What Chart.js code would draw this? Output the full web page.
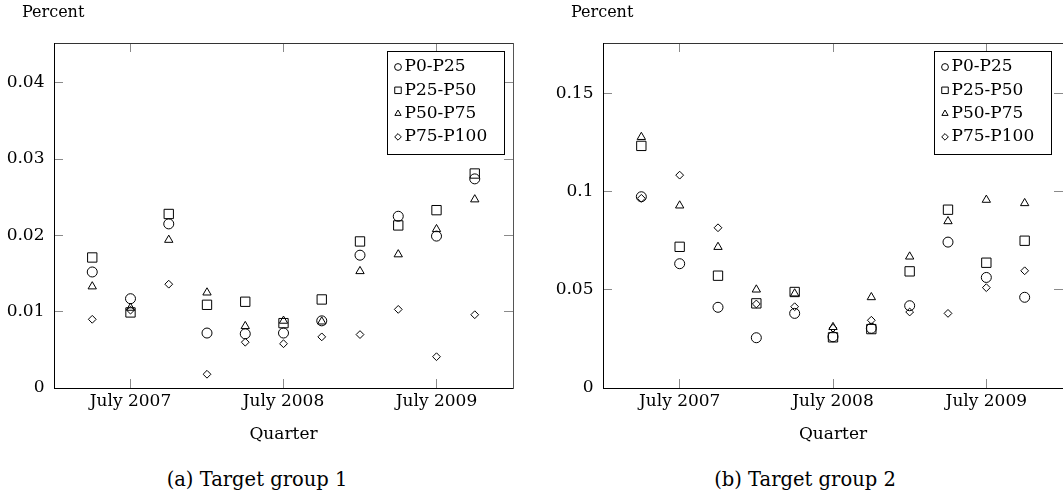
<!DOCTYPE html>
<html>
<head>
<meta charset="utf-8">
<script src="https://cdn.jsdelivr.net/npm/chart.js"></script>
<style>
  html, body { margin: 0; padding: 0; background: #fff; }
  body { width: 1063px; height: 498px; position: relative; overflow: hidden; }
  canvas { position: absolute; top: 0; }
  #c1 { left: 0px; }
  #c2 { left: 549px; }
  .txt { position: absolute; font-family: 'DejaVu Serif', serif; color: #000; white-space: nowrap; }
  .cap { width: 320px; text-align: center; font-size: 19.5px; line-height: 24px; top: 468px; }
  .ylab { font-size: 16px; line-height: 18px; top: 3px; }
</style>
</head>
<body>
<canvas id="c1" width="530" height="460"></canvas>
<canvas id="c2" width="514" height="460"></canvas>
<div class="txt ylab" style="left:22px">Percent</div>
<div class="txt ylab" style="left:571px">Percent</div>
<div class="txt cap" style="left:97px">(a) Target group 1</div>
<div class="txt cap" style="left:645px">(b) Target group 2</div>
<script>
// ---- data ----
const seriesLabels = ['P0-P25', 'P25-P50', 'P50-P75', 'P75-P100'];
// quarters Apr 2007 ... Oct 2009, as fractional years
const quarterPos = [2007.25, 2007.5, 2007.75, 2008.0, 2008.25, 2008.5, 2008.75, 2009.0, 2009.25, 2009.5, 2009.75];
const xTickPos = [2007.5, 2008.5, 2009.5];
const xTickLabels = ['July 2007', 'July 2008', 'July 2009'];

// Target group 1
const g1_p0_25   = [0.0152, 0.0117, 0.0215, 0.0072, 0.0071, 0.0072, 0.0088, 0.0174, 0.0225, 0.0199, 0.0274];
const g1_p25_50  = [0.0171, 0.0099, 0.0228, 0.0109, 0.0113, 0.0085, 0.0116, 0.0192, 0.0213, 0.0233, 0.0281];
const g1_p50_75  = [0.0133, 0.0105, 0.0194, 0.0125, 0.0081, 0.0088, 0.0087, 0.0153, 0.0175, 0.0208, 0.0247];
const g1_p75_100 = [0.0090, 0.0102, 0.0136, 0.0018, 0.0060, 0.0058, 0.0067, 0.0070, 0.0103, 0.0041, 0.0096];
const g1_yTicks = [0, 0.01, 0.02, 0.03, 0.04];
const g1_yTickLabels = ['0', '0.01', '0.02', '0.03', '0.04'];
const g1_yMax = 0.0452;

// Target group 2
const g2_p0_25   = [0.0974, 0.0633, 0.0411, 0.0256, 0.0380, 0.0261, 0.0304, 0.0419, 0.0743, 0.0563, 0.0462];
const g2_p25_50  = [0.1233, 0.0719, 0.0572, 0.0431, 0.0489, 0.0258, 0.0300, 0.0594, 0.0908, 0.0638, 0.0750];
const g2_p50_75  = [0.1278, 0.0929, 0.0718, 0.0501, 0.0481, 0.0310, 0.0462, 0.0669, 0.0849, 0.0958, 0.0941];
const g2_p75_100 = [0.0966, 0.1084, 0.0816, 0.0428, 0.0414, 0.0305, 0.0345, 0.0387, 0.0380, 0.0511, 0.0597];
const g2_yTicks = [0, 0.05, 0.1, 0.15];
const g2_yTickLabels = ['0', '0.05', '0.1', '0.15'];
const g2_yMax = 0.1757;

// ---- styles ----
const pointStyles = ['circle', 'rect', 'triangle', 'rectRot'];
const pointRadii = [5, 6.6, 4.8, 3.9];
const legendRadii = [3.4, 4.6, 3.6, 3.3];
const FONT = "'DejaVu Serif', serif";
const TICK_GRAY = '#8a8a8a';

const boxedLegend = {
  id: 'boxedLegend',
  afterDatasetsDraw(chart, args, o) {
    const {ctx, chartArea} = chart;
    const x0 = Math.round(chartArea.right - o.right - o.width);
    const y0 = Math.round(chartArea.top + o.top);
    ctx.save();
    ctx.fillStyle = '#fff';
    ctx.fillRect(x0, y0, o.width, o.height);
    ctx.strokeStyle = '#000';
    ctx.lineWidth = 1;
    ctx.strokeRect(x0 + 0.5, y0 + 0.5, o.width, o.height);
    ctx.font = o.font;
    ctx.textBaseline = 'middle';
    ctx.textAlign = 'left';
    chart.data.datasets.forEach((ds, i) => {
      const cy = y0 + o.firstRow + i * o.rowGap;
      ctx.fillStyle = 'rgba(0,0,0,0)';
      ctx.strokeStyle = '#000';
      ctx.lineWidth = 1;
      Chart.helpers.drawPoint(ctx, {pointStyle: ds.pointStyle, radius: legendRadii[i], borderWidth: 1, rotation: 0}, x0 + o.markerX, cy);
      ctx.fillStyle = '#000';
      ctx.fillText(ds.label, x0 + o.textX, cy);
    });
    ctx.restore();
  }
};

function makeChart(id, series, yTicks, yTickLabels, yMax, padRight, legendRight) {
  const tickFont = {family: FONT, size: 17};
  const frameGrid = {drawOnChartArea: false, drawTicks: true, tickLength: -9, color: TICK_GRAY, lineWidth: 1};
  return new Chart(document.getElementById(id), {
    type: 'scatter',
    data: {
      datasets: seriesLabels.map((label, i) => ({
        label: label,
        data: quarterPos.map((x, j) => ({x: x, y: series[i][j]})),
        pointStyle: pointStyles[i],
        pointRadius: pointRadii[i],
        pointHoverRadius: pointRadii[i],
        borderColor: '#000',
        backgroundColor: 'rgba(0,0,0,0)',
        pointBorderWidth: 1,
        showLine: false
      }))
    },
    options: {
      responsive: false,
      animation: false,
      devicePixelRatio: 1,
      events: [],
      layout: {autoPadding: false, padding: {left: 0, right: padRight, top: 43, bottom: 0}},
      plugins: {
        legend: {display: false},
        tooltip: {enabled: false},
        title: {display: false},
        boxedLegend: {right: legendRight, top: 8, width: 117, height: 103, markerX: 11, textX: 17.5,
                      firstRow: 16, rowGap: 23.3, font: "17px 'DejaVu Serif', serif"}
      },
      scales: {
        x: {
          type: 'linear', axis: 'x', position: 'bottom', min: 2007.0, max: 2010.0,
          afterBuildTicks: s => { s.ticks = xTickPos.map(v => ({value: v})); },
          afterFit: s => { s.height = 72; },
          ticks: {callback: (v, i) => xTickLabels[i], font: tickFont, color: '#000', padding: 12.6, autoSkip: false, maxRotation: 0},
          grid: frameGrid,
          border: {display: true, color: '#000', width: 1},
          title: {display: true, text: 'Quarter', color: '#000', font: {family: FONT, size: 17, lineHeight: 1.2}, padding: {top: 0, bottom: 15.2}}
        },
        x2: {
          type: 'linear', axis: 'x', position: 'top', min: 2007.0, max: 2010.0,
          afterBuildTicks: s => { s.ticks = xTickPos.map(v => ({value: v})); },
          afterFit: s => { s.height = 0; },
          ticks: {display: false},
          grid: frameGrid,
          border: {display: true, color: '#333', width: 1}
        },
        y: {
          type: 'linear', axis: 'y', position: 'left', min: 0, max: yMax,
          afterBuildTicks: s => { s.ticks = yTicks.map(v => ({value: v})); },
          afterFit: s => { s.width = 54; },
          ticks: {callback: (v, i) => yTickLabels[i], font: tickFont, color: '#000', padding: 18.5, autoSkip: false},
          grid: frameGrid,
          border: {display: true, color: '#000', width: 1}
        },
        y2: {
          type: 'linear', axis: 'y', position: 'right', min: 0, max: yMax,
          afterBuildTicks: s => { s.ticks = yTicks.map(v => ({value: v})); },
          afterFit: s => { s.width = 0; },
          ticks: {display: false},
          grid: frameGrid,
          border: {display: true, color: '#555', width: 1}
        }
      }
    },
    plugins: [boxedLegend]
  });
}

makeChart('c1', [g1_p0_25, g1_p25_50, g1_p50_75, g1_p75_100], g1_yTicks, g1_yTickLabels, g1_yMax, 17, 9);
makeChart('c2', [g2_p0_25, g2_p25_50, g2_p50_75, g2_p75_100], g2_yTicks, g2_yTickLabels, g2_yMax, 0, 12);
</script>
</body>
</html>
